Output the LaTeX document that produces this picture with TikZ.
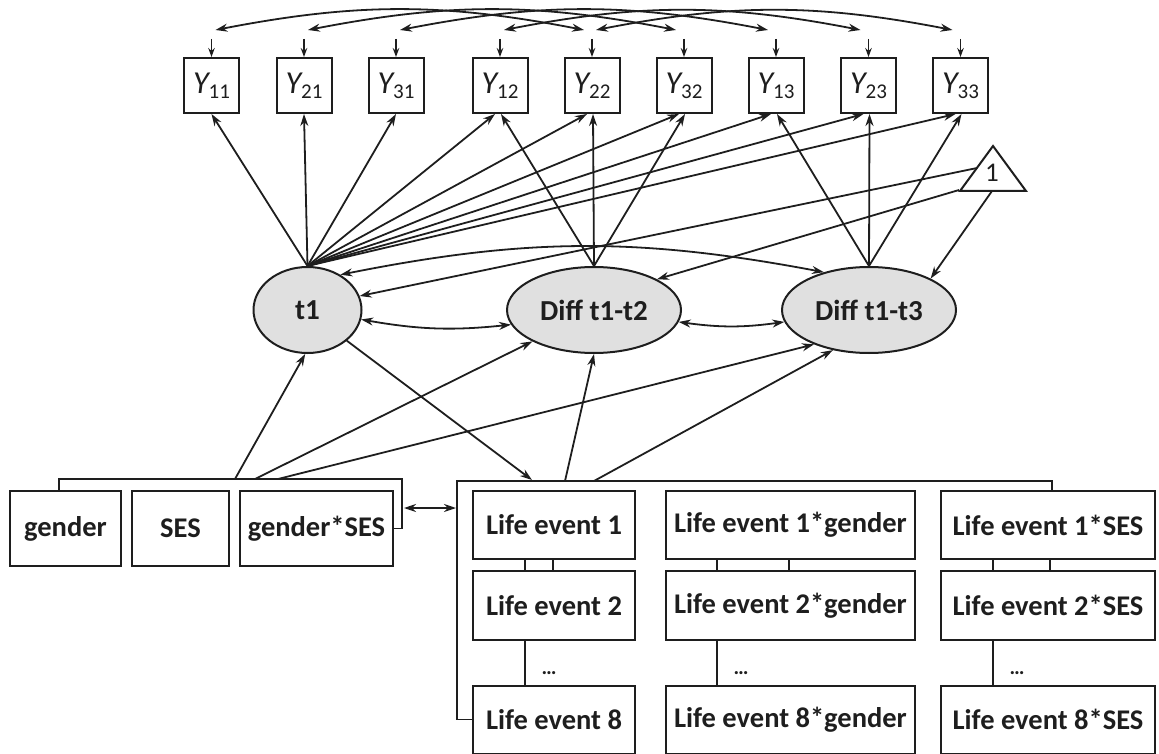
\documentclass[tikz,border=0pt]{standalone}
\usepackage{fontspec}
\setmainfont{Carlito}
\usetikzlibrary{arrows.meta,shapes.geometric,calc}
\definecolor{lc}{HTML}{1E1E1E}
\definecolor{latfill}{HTML}{E0E0E0}
\newcommand{\ylab}[1]{{\fontsize{32}{32}\selectfont\itshape Y}\raisebox{-5pt}{\fontsize{21}{21}\selectfont #1}}
\begin{document}
\begin{tikzpicture}[x=1pt,y=-1pt,
  lnk/.style={draw=lc, line width=1.8pt},
  arr/.style={lnk, -{Stealth[length=12pt,width=8pt]}},
  sarr/.style={lnk, -{Stealth[length=9pt,width=6.5pt]}},
  darr/.style={lnk, {Stealth[length=12pt,width=8pt]}-{Stealth[length=12pt,width=8pt]}},
  ybox/.style={draw=lc, line width=2pt, minimum width=55pt, minimum height=55pt, inner sep=0pt, fill=white, text=lc},
  lat/.style={ellipse, draw=lc, fill=latfill, line width=2pt, inner sep=0pt, minimum height=86pt, text=lc, font=\bfseries\fontsize{29}{29}\selectfont},
  obs/.style={draw=lc, line width=2pt, inner sep=0pt, fill=white, text=lc, font=\bfseries\fontsize{28.5}{30}\selectfont},
  dots/.style={text=lc, font=\bfseries\fontsize{21}{21}\selectfont, anchor=base}
]
\useasboundingbox (0,0) rectangle (1159,754);

% indicators
\node[ybox] (Y11) at (211.5,85.5) {\ylab{11}};
\node[ybox] (Y21) at (304,85.5) {\ylab{21}};
\node[ybox] (Y31) at (396,85.5) {\ylab{31}};
\node[ybox] (Y12) at (500,85.5) {\ylab{12}};
\node[ybox] (Y22) at (592,85.5) {\ylab{22}};
\node[ybox] (Y32) at (684,85.5) {\ylab{32}};
\node[ybox] (Y13) at (776,85.5) {\ylab{13}};
\node[ybox] (Y23) at (868.5,85.5) {\ylab{23}};
\node[ybox] (Y33) at (960.5,85.5) {\ylab{33}};

% latent variables
\node[lat, minimum width=108pt] (t1) at (307.5,310) {t1};
\node[lat, minimum width=174pt] (d2) at (594,310) {Diff t1-t2};
\node[lat, minimum width=174pt] (d3) at (869,310) {Diff t1-t3};

% constant triangle
\coordinate (triT) at (993,146);
\coordinate (triR) at (1026,191);
\coordinate (triL) at (960,191);
\draw[lnk, line width=2pt] (triT) -- (triR) -- (triL) -- cycle;
\node[text=lc, font=\fontsize{27}{27}\selectfont] (one) at (992,173) {1};
\coordinate (tA) at (977,168);
\coordinate (tB) at (959,190);
\coordinate (tC) at (992,191);

% covariates
\node[obs, minimum width=111pt, minimum height=75pt] (gen) at (65.5,528.5) {gender};
\node[obs, minimum width=97pt, minimum height=75pt] (ses) at (180.5,528.5) {SES};
\node[obs, minimum width=153pt, minimum height=75pt] (gs) at (316.5,528.5) {gender*SES};

% life events
\node[obs, minimum width=162pt, minimum height=68pt] (LE1) at (554,525) {Life event 1};
\node[obs, minimum width=162pt, minimum height=69pt] (LE2) at (554,605.5) {Life event 2};
\node[obs, minimum width=162pt, minimum height=68pt] (LE8) at (554,719.5) {Life event 8};
\node[obs, minimum width=249pt, minimum height=68pt] (G1) at (790.5,525) {Life event 1*gender};
\node[obs, minimum width=249pt, minimum height=69pt] (G2) at (790.5,605.5) {Life event 2*gender};
\node[obs, minimum width=249pt, minimum height=68pt] (G8) at (790.5,719.5) {Life event 8*gender};
\node[obs, minimum width=214pt, minimum height=68pt] (S1) at (1048,525) {Life event 1*SES};
\node[obs, minimum width=214pt, minimum height=69pt] (S2) at (1048,605.5) {Life event 2*SES};
\node[obs, minimum width=214pt, minimum height=68pt] (S8) at (1048,719.5) {Life event 8*SES};

\node[dots] (e1) at (549,674) {…};
\node[dots] (e2) at (741,674) {…};
\node[dots] (e3) at (1017,674) {…};

% links inside columns
\draw[lnk] ([xshift=53pt]LE1.south west) -- ([xshift=53pt]LE2.north west);
\draw[lnk] ([xshift=81pt]LE1.south west) -- ([xshift=81pt]LE2.north west);
\draw[lnk] ([xshift=53pt]LE2.south west) -- ([xshift=53pt]LE8.north west);
\draw[lnk] ([xshift=52pt]G1.south west) -- ([xshift=52pt]G2.north west);
\draw[lnk] ([xshift=124pt]G1.south west) -- ([xshift=124pt]G2.north west);
\draw[lnk] ([xshift=52pt]G2.south west) -- ([xshift=52pt]G8.north west);
\draw[lnk] ([xshift=53pt]S1.south west) -- ([xshift=53pt]S2.north west);
\draw[lnk] ([xshift=110pt]S1.south west) -- ([xshift=110pt]S2.north west);
\draw[lnk] ([xshift=53pt]S2.south west) -- ([xshift=53pt]S8.north west);

% brackets
\coordinate (lbL) at (59,479);
\coordinate (lbR) at (402,479);
\draw[lnk] (lbL |- gen.north) -- (lbL) -- (lbR) |- (gs.east);
\coordinate (rbL) at (457,481);
\coordinate (rbR) at (1052,481);
\draw[lnk] (LE8.west) -| (rbL) -- (rbR) -- (rbR |- S1.north);
\coordinate (dl) at (404,508);
\coordinate (dr) at (456,508);
\draw[darr] (dl) -- (dr);

\coordinate (lb1) at (235,479);
\coordinate (lb2) at (255,479);
\coordinate (lb3) at (278,479);
\coordinate (rbA) at (532,480);
\coordinate (rb2) at (565,481);
\coordinate (rb3) at (594,481);

% small arrows above boxes
\foreach \n in {Y11,Y21,Y31,Y12,Y22,Y32,Y13,Y23,Y33}
  \draw[sarr] ([yshift=18pt]\n.north) -- (\n.north);

% covariance arcs
\foreach \a/\b in {Y11/Y22,Y21/Y32,Y31/Y13,Y12/Y23,Y22/Y33}
  \draw[darr] ([shift={(4,-27)}]\a.north) to[bend left=11] ([shift={(-8,-27)}]\b.north);

% loadings
\draw[arr] (t1.north) -- (Y11.south);
\draw[arr] (t1.north) -- (Y21.south);
\draw[arr] (t1.north) -- (Y31.south);
\foreach \n in {Y12,Y22,Y32,Y13,Y23,Y33}
  \draw[arr] (t1.north) -- ([xshift=-5pt]\n.south);
\foreach \n in {Y12,Y22,Y32}
  \draw[arr] (d2.north) -- ([xshift=1pt]\n.south);
\foreach \n in {Y13,Y23,Y33}
  \draw[arr] (d3.north) -- ([xshift=1pt]\n.south);

% latent covariances
\draw[darr] (t1.47) to[bend left=11] (d3.140);
\draw[darr] (t1.-10) to[bend right=8] (d2.190);
\draw[darr] (d2.-8) to[bend right=8] (d3.188);

% means
\draw[arr] (tA) -- (t1.15);
\draw[arr] (tB) -- (d2.26);
\draw[arr] (tC) -- (d3.27);

% regressions
\draw[arr] (lb1) -- (t1.-93);
\draw[arr] (lb2) -- (d2.207);
\draw[arr] (lb3) -- (d3.212);
\draw[arr] (rb2) -- (d2.-90);
\draw[arr] (rb3) -- (d3.228);
\draw[arr] (t1.-38) -- (rbA);
\end{tikzpicture}
\end{document}
